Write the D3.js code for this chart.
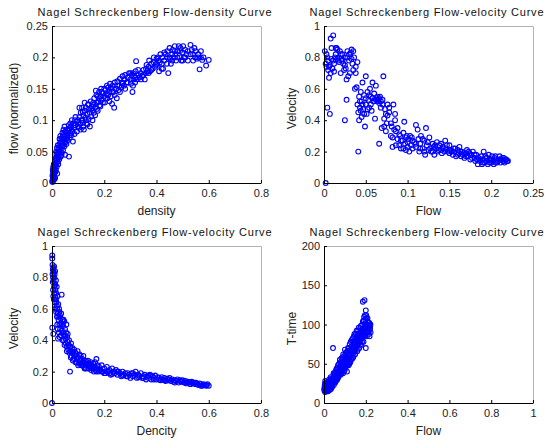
<!DOCTYPE html>
<html>
<head>
<meta charset="utf-8">
<script src="https://cdn.jsdelivr.net/npm/d3@7"></script>
<style>
  body { margin: 0; background: #fff; }
  svg { display: block; }
  .tick text { font-family: "Liberation Sans", Arial, sans-serif; font-size: 11px; fill: #222; }
  .lbl { font-family: "Liberation Sans", Arial, sans-serif; font-size: 12px; fill: #222; }
  .ttl { font-family: "Liberation Sans", Arial, sans-serif; font-size: 11px; fill: #111; }
</style>
</head>
<body>
<svg id="chart" width="547" height="441"></svg>
<script>
// flow-density: [density, flow]
const flowDensity = [
  [0.002,0.004],[0.003,0.01],[0.004,0.015],[0.005,0.008],[0.006,0.02],[0.007,0.013],[0.008,0.025],[0.009,0.018],
  [0.01,0.03],[0.011,0.022],[0.012,0.035],[0.013,0.027],[0.014,0.032],[0.015,0.04],[0.016,0.03],[0.017,0.045],
  [0.018,0.037],[0.02,0.042],[0.021,0.05],[0.022,0.034],[0.023,0.047],[0.025,0.055],[0.026,0.043],[0.027,0.05],
  [0.028,0.06],[0.03,0.048],[0.031,0.056],[0.032,0.065],[0.034,0.052],[0.035,0.06],[0.036,0.07],[0.038,0.058],
  [0.04,0.066],[0.041,0.074],[0.043,0.06],[0.045,0.07],[0.046,0.078],[0.048,0.066],[0.05,0.075],[0.052,0.082],
  [0.054,0.07],[0.056,0.08],[0.058,0.085],[0.06,0.076],[0.062,0.083],[0.065,0.042],[0.066,0.087],[0.07,0.08],
  [0.072,0.09],[0.075,0.085],[0.08,0.066],[0.082,0.095],[0.085,0.088],[0.088,0.1],[0.09,0.092],[0.095,0.098],
  [0.003,0.002],[0.004,0.022],[0.006,0.005],[0.008,0.012],[0.01,0.016],[0.012,0.008],[0.015,0.02],[0.018,0.026],
  [0.02,0.015],[0.024,0.03],[0.028,0.038],[0.033,0.042],[0.038,0.048],[0.042,0.052],[0.047,0.058],[0.05,0.045],
  [0.055,0.062],[0.06,0.068],[0.068,0.072],[0.074,0.076],[0.078,0.082],[0.086,0.078],
  [0.001,0.002],[0.002,0.012],[0.003,0.02],[0.005,0.026],[0.007,0.03],[0.009,0.006],[0.011,0.038],[0.013,0.018],
  [0.016,0.05],[0.019,0.056],[0.022,0.06],[0.024,0.04],[0.029,0.07],[0.032,0.075],[0.036,0.044],[0.04,0.08],
  [0.044,0.085],[0.048,0.09],[0.052,0.065],[0.058,0.072],[0.064,0.092],[0.07,0.095],[0.076,0.1],
  [0.1,0.1],[0.102,0.088],[0.105,0.105],[0.108,0.094],[0.11,0.112],[0.112,0.1],[0.115,0.12],[0.118,0.096],
  [0.12,0.108],[0.122,0.085],[0.125,0.115],[0.128,0.104],[0.13,0.12],[0.132,0.095],[0.135,0.11],[0.138,0.125],
  [0.14,0.102],[0.142,0.118],[0.145,0.112],[0.148,0.13],[0.15,0.106],[0.152,0.122],[0.155,0.116],[0.158,0.128],
  [0.16,0.112],[0.162,0.135],[0.165,0.12],[0.168,0.147],[0.17,0.128],[0.172,0.118],[0.175,0.138],[0.178,0.13],
  [0.18,0.145],[0.182,0.124],[0.185,0.138],[0.188,0.15],[0.19,0.132],[0.195,0.143],[0.2,0.138],[0.202,0.128],
  [0.09,0.105],[0.095,0.082],[0.1,0.09],[0.105,0.12],[0.11,0.085],[0.115,0.1],[0.118,0.113],[0.12,0.09],
  [0.125,0.128],[0.13,0.1],[0.135,0.093],[0.14,0.125],[0.145,0.09],[0.15,0.118],[0.155,0.1],[0.16,0.125],
  [0.165,0.108],[0.17,0.14],[0.175,0.115],[0.18,0.135],[0.185,0.122],[0.19,0.145],[0.195,0.128],[0.2,0.15],
  [0.205,0.148],[0.21,0.142],[0.212,0.135],[0.215,0.152],[0.22,0.145],[0.222,0.158],[0.225,0.138],[0.228,0.15],
  [0.23,0.126],[0.232,0.155],[0.235,0.145],[0.238,0.12],[0.24,0.16],[0.245,0.15],[0.248,0.135],[0.25,0.162],
  [0.205,0.135],[0.21,0.155],[0.215,0.14],[0.22,0.13],[0.225,0.152],[0.23,0.145],[0.24,0.14],[0.25,0.155],
  [0.255,0.148],[0.258,0.155],[0.26,0.166],[0.265,0.152],[0.268,0.16],[0.27,0.17],[0.275,0.155],[0.278,0.165],
  [0.28,0.172],[0.285,0.16],[0.29,0.168],[0.295,0.175],[0.3,0.165],[0.302,0.158],[0.305,0.172],[0.308,0.145],
  [0.26,0.145],[0.27,0.158],[0.28,0.15],[0.29,0.16],[0.3,0.175],[0.31,0.155],[0.32,0.168],[0.33,0.18],
  [0.31,0.175],[0.312,0.165],[0.315,0.17],[0.318,0.16],[0.32,0.178],[0.322,0.194],[0.325,0.165],[0.33,0.172],
  [0.335,0.168],[0.34,0.175],[0.345,0.17],[0.35,0.18],[0.355,0.165],[0.36,0.175],[0.362,0.188],[0.365,0.178],
  [0.34,0.165],[0.35,0.172],[0.36,0.182],[0.37,0.175],[0.38,0.18],[0.39,0.2],[0.4,0.19],[0.41,0.195],
  [0.37,0.185],[0.372,0.195],[0.375,0.178],[0.38,0.19],[0.385,0.182],[0.39,0.192],[0.395,0.185],[0.4,0.198],
  [0.402,0.188],[0.405,0.2],[0.41,0.178],[0.412,0.192],[0.415,0.205],[0.42,0.19],[0.422,0.2],[0.425,0.182],
  [0.42,0.182],[0.43,0.208],[0.44,0.19],[0.45,0.2],[0.46,0.195],[0.47,0.21],[0.48,0.2],[0.49,0.21],
  [0.43,0.195],[0.435,0.205],[0.44,0.2],[0.442,0.21],[0.445,0.175],[0.45,0.215],[0.452,0.198],[0.455,0.19],
  [0.46,0.205],[0.462,0.212],[0.465,0.2],[0.47,0.218],[0.472,0.205],[0.475,0.195],[0.48,0.21],[0.485,0.218],
  [0.49,0.2],[0.492,0.215],[0.495,0.195],[0.5,0.208],[0.502,0.218],[0.505,0.2],[0.51,0.212],[0.515,0.205],
  [0.5,0.195],[0.51,0.2],[0.52,0.21],[0.53,0.205],[0.54,0.195],[0.56,0.2],[0.57,0.21],
  [0.52,0.195],[0.53,0.22],[0.535,0.212],[0.54,0.205],[0.545,0.215],[0.548,0.2],[0.55,0.21],[0.555,0.198],
  [0.56,0.205],[0.565,0.181],[0.57,0.2],[0.575,0.196],[0.58,0.2],[0.59,0.187],[0.6,0.196]
];

// flow-velocity: [flow, velocity]
const flowVelocity = [
  [0.002,0],[0.001,0.84],[0.004,0.48],[0.007,0.44],[0.011,0.94],[0.008,0.92],
  [0.002,0.76],[0.003,0.74],[0.004,0.8],[0.005,0.72],[0.006,0.67],[0.007,0.75],[0.008,0.7],[0.009,0.86],
  [0.01,0.73],[0.011,0.78],[0.012,0.71],[0.013,0.8],[0.014,0.82],[0.015,0.86],[0.016,0.85],[0.017,0.78],
  [0.018,0.8],[0.019,0.84],[0.02,0.7],[0.021,0.79],[0.022,0.82],[0.023,0.76],[0.024,0.72],[0.025,0.8],
  [0.026,0.73],[0.027,0.66],[0.028,0.84],[0.029,0.68],[0.03,0.78],[0.031,0.7],[0.032,0.83],[0.033,0.85],
  [0.034,0.76],[0.035,0.72],[0.036,0.8],[0.037,0.6],[0.038,0.7],[0.039,0.61],[0.04,0.77],[0.041,0.2],
  [0.027,0.53],[0.025,0.4],
  [0.003,0.82],[0.005,0.78],[0.006,0.74],[0.009,0.79],[0.012,0.76],[0.014,0.86],[0.016,0.79],[0.018,0.77],
  [0.02,0.82],[0.022,0.78],[0.025,0.75],[0.028,0.8],[0.03,0.82],[0.033,0.79],[0.035,0.84],[0.038,0.74],
  [0.04,0.5],[0.041,0.45],[0.042,0.55],[0.042,0.4],[0.043,0.48],[0.044,0.58],[0.045,0.52],[0.045,0.42],
  [0.046,0.64],[0.047,0.47],[0.048,0.56],[0.049,0.36],[0.05,0.68],[0.05,0.5],[0.051,0.44],[0.052,0.58],
  [0.053,0.53],[0.054,0.48],[0.055,0.6],[0.056,0.55],[0.057,0.46],[0.058,0.64],[0.059,0.52],[0.06,0.57],
  [0.061,0.41],[0.062,0.62],[0.063,0.54],[0.064,0.52],[0.065,0.53],[0.066,0.25],[0.066,0.51],[0.067,0.55],
  [0.068,0.48],[0.069,0.35],[0.07,0.53],[0.071,0.68],[0.072,0.41],[0.073,0.47],[0.074,0.44],[0.075,0.38],
  [0.076,0.5],[0.078,0.45],[0.08,0.3],[0.081,0.36],[0.082,0.23],[0.083,0.5],[0.085,0.44],[0.085,0.4],
  [0.043,0.52],[0.044,0.46],[0.046,0.5],[0.048,0.44],[0.05,0.54],[0.052,0.47],[0.054,0.56],[0.056,0.5],
  [0.058,0.54],[0.06,0.52],[0.062,0.53],[0.064,0.55],[0.066,0.54],[0.068,0.52],[0.07,0.5],[0.072,0.36],
  [0.074,0.33],[0.076,0.43],[0.078,0.48],[0.08,0.38],[0.082,0.29],[0.084,0.34],[0.086,0.24],[0.088,0.35],
  [0.086,0.33],[0.088,0.28],[0.09,0.24],[0.091,0.3],[0.092,0.22],[0.094,0.27],[0.095,0.32],[0.096,0.39],
  [0.097,0.25],[0.098,0.21],[0.099,0.3],[0.1,0.26],[0.101,0.28],[0.102,0.2],[0.104,0.24],[0.105,0.29],
  [0.106,0.22],[0.108,0.26],[0.11,0.37],[0.11,0.23],[0.112,0.34],[0.113,0.28],[0.114,0.2],[0.115,0.25],
  [0.09,0.31],[0.092,0.27],[0.095,0.22],[0.098,0.29],[0.1,0.23],[0.103,0.3],[0.106,0.27],[0.11,0.25],
  [0.116,0.3],[0.118,0.22],[0.12,0.27],[0.121,0.18],[0.122,0.35],[0.123,0.24],[0.125,0.21],[0.126,0.29],
  [0.128,0.2],[0.13,0.25],[0.131,0.23],[0.132,0.18],[0.134,0.22],[0.135,0.26],[0.136,0.2],[0.138,0.24],
  [0.115,0.22],[0.118,0.28],[0.12,0.2],[0.124,0.26],[0.127,0.22],[0.13,0.2],[0.133,0.24],[0.137,0.21],
  [0.14,0.21],[0.141,0.19],[0.142,0.23],[0.144,0.2],[0.145,0.27],[0.146,0.22],[0.148,0.2],[0.15,0.24],
  [0.15,0.19],[0.152,0.21],[0.154,0.18],[0.155,0.22],[0.156,0.2],[0.158,0.17],[0.16,0.21],[0.161,0.19],
  [0.14,0.25],[0.143,0.22],[0.147,0.24],[0.15,0.21],[0.153,0.2],[0.157,0.22],[0.16,0.18],[0.163,0.2],
  [0.162,0.23],[0.164,0.17],[0.165,0.2],[0.166,0.18],[0.168,0.16],[0.17,0.19],[0.171,0.21],[0.172,0.17],
  [0.174,0.19],[0.175,0.15],[0.176,0.18],[0.178,0.2],[0.18,0.16],[0.181,0.14],[0.182,0.18],[0.184,0.12],
  [0.167,0.19],[0.17,0.17],[0.173,0.2],[0.177,0.16],[0.18,0.18],[0.183,0.15],[0.187,0.15],[0.19,0.13],
  [0.185,0.16],[0.186,0.14],[0.188,0.17],[0.189,0.12],[0.19,0.15],[0.191,0.2],[0.192,0.13],[0.194,0.16],
  [0.195,0.14],[0.196,0.12],[0.197,0.18],[0.198,0.15],[0.2,0.13],[0.201,0.17],[0.202,0.14],[0.204,0.16],
  [0.193,0.17],[0.195,0.16],[0.198,0.13],[0.2,0.15],[0.203,0.12],[0.205,0.17],[0.207,0.13],[0.21,0.15],
  [0.205,0.13],[0.206,0.15],[0.208,0.14],[0.21,0.17],[0.211,0.13],[0.212,0.15],[0.214,0.14],[0.215,0.16],
  [0.213,0.16],[0.215,0.14],[0.217,0.15],[0.22,0.14],
  [0.216,0.13],[0.218,0.15],[0.219,0.14]
];

// density-velocity: [density, velocity]
const densityVelocity = [
  [0,0],[0.001,0.48],[0.005,0.44],[0.001,0.94],[0.001,0.92],[0.002,0.88],[0.003,0.85],[0.004,0.8],
  [0.005,0.86],[0.006,0.78],[0.007,0.83],[0.008,0.74],[0.009,0.8],[0.01,0.7],[0.011,0.76],[0.012,0.84],
  [0.013,0.72],[0.014,0.67],[0.015,0.78],[0.016,0.7],[0.017,0.64],[0.018,0.74],[0.02,0.6],[0.021,0.68],
  [0.022,0.57],[0.023,0.41],[0.024,0.63],[0.025,0.53],[0.027,0.6],[0.028,0.5],[0.03,0.56],[0.031,0.47],
  [0.033,0.54],[0.034,0.43],[0.036,0.51],[0.037,0.69],[0.038,0.46],[0.04,0.53],[0.041,0.4],[0.043,0.49],
  [0.045,0.44],[0.047,0.52],[0.048,0.37],[0.05,0.47],[0.052,0.41],[0.054,0.45],[0.056,0.36],[0.058,0.42],
  [0.002,0.82],[0.003,0.77],[0.004,0.72],[0.005,0.68],[0.006,0.84],[0.007,0.66],[0.008,0.87],[0.009,0.7],
  [0.01,0.82],[0.011,0.64],[0.012,0.75],[0.013,0.6],[0.015,0.66],[0.016,0.58],[0.018,0.62],[0.019,0.55],
  [0.02,0.5],[0.022,0.47],[0.024,0.55],[0.026,0.45],[0.028,0.58],[0.029,0.42],[0.032,0.5],[0.035,0.57],
  [0.039,0.5],[0.042,0.45],[0.044,0.53],[0.046,0.4],[0.05,0.43],[0.053,0.38],[0.055,0.5],[0.057,0.33],
  [0.06,0.39],[0.062,0.34],[0.065,0.4],[0.068,0.36],[0.069,0.2],[0.07,0.33],[0.073,0.38],[0.075,0.3],
  [0.078,0.35],[0.08,0.32],[0.083,0.28],[0.085,0.34],[0.088,0.3],[0.09,0.26],[0.093,0.31],[0.095,0.28],
  [0.06,0.44],[0.063,0.37],[0.066,0.32],[0.07,0.36],[0.072,0.29],[0.076,0.33],[0.08,0.27],[0.085,0.3],
  [0.098,0.33],[0.1,0.29],[0.103,0.25],[0.105,0.31],[0.108,0.27],[0.11,0.3],[0.113,0.24],[0.115,0.28],
  [0.118,0.26],[0.12,0.3],[0.123,0.23],[0.125,0.27],[0.128,0.25],[0.13,0.22],[0.133,0.26],[0.135,0.24],
  [0.09,0.32],[0.095,0.26],[0.1,0.24],[0.105,0.27],[0.11,0.25],[0.12,0.24],[0.125,0.22],[0.13,0.27],
  [0.138,0.27],[0.14,0.22],[0.143,0.25],[0.145,0.23],[0.148,0.26],[0.15,0.21],[0.153,0.24],[0.155,0.22],
  [0.158,0.25],[0.16,0.2],[0.163,0.23],[0.165,0.26],[0.168,0.21],[0.17,0.28],[0.173,0.22],[0.175,0.24],
  [0.14,0.25],[0.15,0.23],[0.16,0.22],[0.17,0.2],[0.18,0.21],[0.19,0.2],[0.2,0.19],[0.21,0.2],
  [0.178,0.2],[0.18,0.23],[0.185,0.21],[0.19,0.24],[0.195,0.2],[0.2,0.22],[0.205,0.19],[0.21,0.23],
  [0.215,0.2],[0.22,0.21],[0.225,0.18],[0.23,0.22],[0.235,0.2],[0.24,0.19],[0.245,0.21],[0.25,0.18],
  [0.22,0.19],[0.23,0.185],[0.25,0.2],[0.27,0.175],[0.29,0.17],[0.31,0.19],[0.33,0.165],[0.35,0.16],
  [0.255,0.2],[0.26,0.19],[0.265,0.17],[0.27,0.2],[0.275,0.18],[0.28,0.19],[0.285,0.17],[0.29,0.19],
  [0.295,0.18],[0.3,0.16],[0.305,0.19],[0.31,0.17],[0.315,0.18],[0.32,0.2],[0.325,0.16],[0.33,0.18],
  [0.335,0.17],[0.34,0.19],[0.345,0.16],[0.35,0.17],[0.355,0.18],[0.36,0.15],[0.365,0.17],[0.37,0.16],
  [0.375,0.18],[0.38,0.15],[0.385,0.17],[0.39,0.16],[0.395,0.175],[0.4,0.15],[0.405,0.165],[0.41,0.16],
  [0.37,0.175],[0.39,0.15],[0.41,0.15],[0.43,0.145],[0.45,0.15],[0.47,0.13],[0.49,0.145],[0.51,0.13],
  [0.415,0.145],[0.42,0.165],[0.425,0.15],[0.43,0.16],[0.435,0.14],[0.44,0.155],[0.445,0.145],[0.45,0.16],
  [0.455,0.14],[0.46,0.15],[0.465,0.135],[0.47,0.145],[0.475,0.14],[0.48,0.15],[0.485,0.13],[0.49,0.14],
  [0.495,0.135],[0.5,0.145],[0.505,0.13],[0.51,0.14],[0.515,0.125],[0.52,0.135],[0.525,0.13],[0.53,0.12],
  [0.53,0.13],[0.55,0.13],[0.57,0.11],[0.59,0.115],
  [0.535,0.135],[0.54,0.125],[0.545,0.13],[0.55,0.12],[0.555,0.125],[0.56,0.115],[0.565,0.125],[0.57,0.12],
  [0.575,0.11],[0.58,0.12],[0.585,0.115],[0.59,0.11],[0.595,0.12],[0.6,0.11]
];

// flow vs travel time: [flow, T-time]
const flowTime = [
  [0.002,16],[0.004,20],[0.005,14],[0.006,28],[0.008,18],[0.01,22],[0.012,15],[0.014,25],[0.015,19],
  [0.017,17],[0.018,27],[0.02,21],[0.022,16],[0.024,24],[0.025,30],[0.027,19],[0.028,26],[0.03,22],
  [0.032,33],[0.034,18],[0.035,28],[0.037,24],[0.04,31],[0.042,27],[0.043,70],[0.045,35],[0.047,23],
  [0.001,18],[0.003,22],[0.005,25],[0.007,16],[0.009,20],[0.011,26],[0.013,20],[0.016,22],[0.019,15],
  [0.021,25],[0.023,19],[0.026,23],[0.029,17],[0.031,25],[0.033,21],[0.036,31],[0.038,20],[0.041,24],
  [0.05,30],[0.052,38],[0.054,26],[0.056,33],[0.058,42],[0.06,29],[0.062,36],[0.064,45],[0.066,32],
  [0.044,29],[0.046,38],[0.048,26],[0.051,34],[0.053,28],[0.055,40],[0.057,31],[0.059,36],[0.061,44],
  [0.068,40],[0.07,35],[0.072,50],[0.074,38],[0.076,55],[0.078,43],[0.08,36],[0.082,48],[0.084,57],
  [0.063,30],[0.065,38],[0.067,48],[0.069,33],[0.071,42],[0.073,36],[0.075,46],[0.077,40],[0.079,52],
  [0.086,40],[0.088,52],[0.09,45],[0.092,62],[0.094,48],[0.096,40],[0.098,55],[0.1,68],[0.101,50],
  [0.081,42],[0.083,38],[0.085,50],[0.087,44],[0.089,58],[0.091,38],[0.093,52],[0.095,46],[0.097,60],
  [0.103,45],[0.105,60],[0.107,53],[0.109,65],[0.111,48],[0.113,58],[0.115,70],[0.117,55],[0.119,62],
  [0.099,42],[0.102,56],[0.104,64],[0.106,48],[0.108,58],[0.11,40],[0.112,66],[0.114,52],[0.116,62],
  [0.121,50],[0.123,75],[0.125,60],[0.127,68],[0.129,56],[0.131,72],[0.133,80],[0.135,64],[0.137,70],
  [0.118,48],[0.12,70],[0.122,58],[0.124,66],[0.126,52],[0.128,78],[0.13,62],[0.132,68],[0.134,56],
  [0.139,58],[0.141,76],[0.143,85],[0.145,68],[0.147,74],[0.149,62],[0.151,80],[0.153,88],[0.155,72],
  [0.136,82],[0.138,66],[0.14,72],[0.142,60],[0.144,78],[0.146,88],[0.148,66],[0.15,76],[0.152,70],
  [0.157,78],[0.159,66],[0.161,84],[0.163,92],[0.165,76],[0.167,82],[0.169,70],[0.171,88],[0.173,95],
  [0.154,84],[0.156,92],[0.158,74],[0.16,80],[0.162,68],[0.164,88],[0.166,96],[0.168,78],[0.17,84],
  [0.175,80],[0.177,86],[0.179,74],[0.181,92],[0.183,100],[0.185,84],[0.186,129],[0.187,90],[0.189,78],
  [0.172,74],[0.174,90],[0.176,98],[0.178,82],[0.18,88],[0.182,78],[0.184,94],[0.186,104],[0.188,86],
  [0.19,105],[0.192,95],[0.194,131],[0.195,86],[0.196,112],[0.198,100],[0.2,118],[0.2,70],[0.201,92],
  [0.19,92],[0.192,110],[0.194,98],[0.196,88],[0.198,106],[0.2,96],[0.202,112],[0.204,100],[0.206,90],
  [0.203,108],[0.205,85],[0.207,98],[0.209,104],[0.211,90],[0.213,96],[0.215,88],[0.217,102],[0.219,94],
  [0.208,108],[0.21,95],[0.212,102],[0.214,92],[0.216,98],[0.218,85],[0.22,95],[0.222,100],
  [0.221,98],[0.223,90]
];

const titles = [
  "Nagel Schreckenberg Flow-density Curve",
  "Nagel Schreckenberg Flow-velocity Curve",
  "Nagel Schreckenberg Flow-velocity Curve",
  "Nagel Schreckenberg Flow-velocity Curve"
];
const xTicks1 = [0, 0.2, 0.4, 0.6, 0.8];
const yTicks1 = [0, 0.05, 0.1, 0.15, 0.2, 0.25];
const xTicks2 = [0, 0.05, 0.1, 0.15, 0.2, 0.25];
const yTicks2 = [0, 0.2, 0.4, 0.6, 0.8, 1];
const xTicks4 = [0, 0.2, 0.4, 0.6, 0.8, 1];
const yTicks4 = [0, 50, 100, 150, 200];

const panels = [
  { data: flowDensity, x: [0, 0.8], y: [0, 0.25], xt: xTicks1, yt: yTicks1,
    xl: "density", yl: "flow (normalized)", left: 52, top: 26 },
  { data: flowVelocity, x: [0, 0.25], y: [0, 1], xt: xTicks2, yt: yTicks2,
    xl: "Flow", yl: "Velocity", left: 324, top: 26 },
  { data: densityVelocity, x: [0, 0.8], y: [0, 1], xt: xTicks1, yt: yTicks2,
    xl: "Dencity", yl: "Velocity", left: 52, top: 246 },
  { data: flowTime, x: [0, 1], y: [0, 200], xt: xTicks4, yt: yTicks4,
    xl: "Flow", yl: "T-time", left: 324, top: 246 }
];

const W = 209, H = 157;
const svg = d3.select("#chart");
const fmt = d => String(d);

panels.forEach((p, i) => {
  const g = svg.append("g").attr("transform", `translate(${p.left},${p.top})`);
  const x = d3.scaleLinear().domain(p.x).range([0, W]);
  const y = d3.scaleLinear().domain(p.y).range([H, 0]);

  // light box top / right
  g.append("path")
    .attr("d", `M0.5,0.5H${W + 0.5}V${H}`)
    .attr("fill", "none")
    .attr("stroke", "#b4b4b4");

  g.append("g")
    .selectAll("circle")
    .data(p.data)
    .enter()
    .append("circle")
    .attr("cx", d => x(d[0]))
    .attr("cy", d => y(d[1]))
    .attr("r", 2.4)
    .attr("fill", "none")
    .attr("stroke", "#0000ff")
    .attr("stroke-width", 1.1);

  g.append("g")
    .attr("transform", `translate(0,${H})`)
    .call(d3.axisBottom(x).tickValues(p.xt).tickFormat(fmt).tickSizeInner(-3).tickSizeOuter(0).tickPadding(6))
    .call(a => a.select(".domain").attr("stroke", "#000"));

  g.append("g")
    .call(d3.axisLeft(y).tickValues(p.yt).tickFormat(fmt).tickSizeInner(-3).tickSizeOuter(0).tickPadding(4))
    .call(a => a.select(".domain").attr("stroke", "#000"));

  g.append("text")
    .attr("class", "ttl")
    .attr("x", W / 2 - 2)
    .attr("y", -10)
    .attr("text-anchor", "middle")
    .attr("textLength", 234)
    .attr("lengthAdjust", "spacing")
    .text(titles[i]);

  g.append("text")
    .attr("class", "lbl")
    .attr("x", W / 2)
    .attr("y", H + 32)
    .attr("text-anchor", "middle")
    .text(p.xl);

  g.append("text")
    .attr("class", "lbl")
    .attr("transform", `translate(${i % 2 ? -28 : -34},${H / 2 + 4}) rotate(-90)`)
    .attr("text-anchor", "middle")
    .text(p.yl);
});
</script>
</body>
</html>
